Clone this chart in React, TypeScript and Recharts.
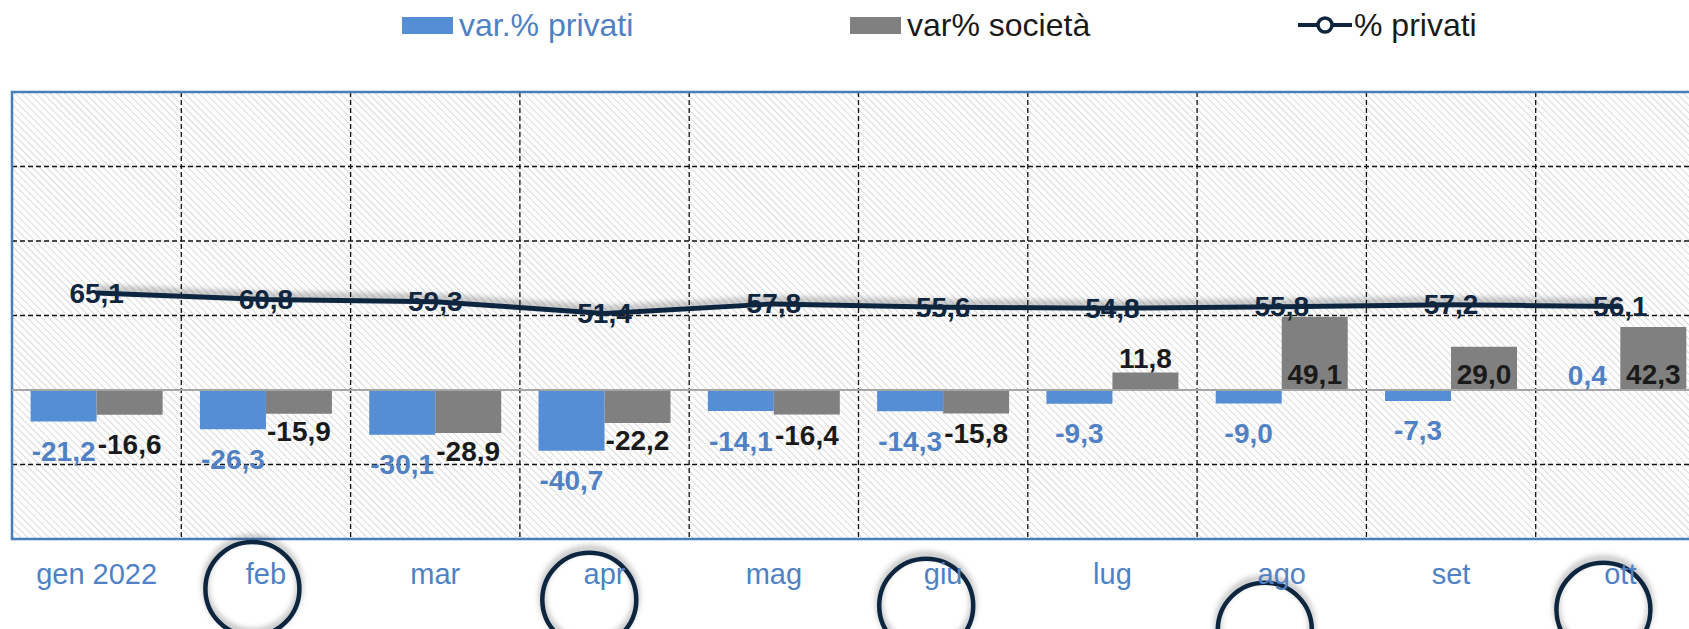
import React from 'react';
import {
  ComposedChart,
  Bar,
  Line,
  XAxis,
  YAxis,
  CartesianGrid,
  ReferenceLine,
  ReferenceArea,
  ReferenceDot,
  LabelList,
} from 'recharts';

const months = ['gen 2022', 'feb', 'mar', 'apr', 'mag', 'giu', 'lug', 'ago', 'set', 'ott'];
const varPrivati = [-21.2, -26.3, -30.1, -40.7, -14.1, -14.3, -9.3, -9.0, -7.3, 0.4];
const varSocieta = [-16.6, -15.9, -28.9, -22.2, -16.4, -15.8, 11.8, 49.1, 29.0, 42.3];
const pctPrivati = [65.1, 60.8, 59.3, 51.4, 57.8, 55.6, 54.8, 55.8, 57.2, 56.1];

// stray line markers that the source export draws below the axis
const markerSlot = [1.42, 3.41, 5.4, 7.4, 9.4];
const markerLevel = [-133.5, -140.8, -144.8, -160.9, -147.5];

const yTicks = [-100, -50, 0, 50, 100, 150, 200];
const slotTicks = [0, 1, 2, 3, 4, 5, 6, 7, 8, 9, 10];

const data = months.map((m, i) => ({
  month: m,
  slot: i + 0.5,
  priv: varPrivati[i],
  soc: varSocieta[i],
  pct: pctPrivati[i],
}));

const BLUE = '#558ed5';
const BLUE_TEXT = '#4f81c4';
const GREY = '#808080';
const NAVY = '#10263f';
const FONT = '"Liberation Sans", Arial, sans-serif';

const fmt = (v: number) => v.toFixed(1).replace('.', ',');

// gray negatives sit a bit closer to the bar end, gen is pushed down
const socDrop = [30, 18, 18, 17, 21, 20, 18, 18, 18, 18];

const BarLabel = (props: any) => {
  const { x, y, width, height, value, index, color, drop } = props;
  const top = Math.min(y, y + height);
  const bottom = Math.max(y, y + height);
  const cx = x + width / 2;
  let cy: number;
  if (value < 0) cy = bottom + (Array.isArray(drop) ? drop[index] : drop);
  else if (bottom - top > 40) cy = bottom - 16;
  else cy = top - 14;
  return (
    <text
      x={cx}
      y={cy}
      textAnchor="middle"
      dominantBaseline="central"
      fill={color}
      fontSize={28}
      fontWeight="bold"
      fontFamily={FONT}
    >
      {fmt(value)}
    </text>
  );
};

const LineLabel = (props: any) => {
  const { x, y, value } = props;
  return (
    <text
      x={x}
      y={y}
      textAnchor="middle"
      dominantBaseline="central"
      fill={NAVY}
      fontSize={28}
      fontWeight="bold"
      fontFamily={FONT}
    >
      {fmt(value)}
    </text>
  );
};

const legendItems = [
  { name: 'var.% privati', kind: 'bar', color: BLUE, text: BLUE_TEXT },
  { name: 'var% società', kind: 'bar', color: GREY, text: '#1a1a1a' },
  { name: '% privati', kind: 'line', color: NAVY, text: '#1a1a1a' },
];

const Legend = () => (
  <div
    style={{
      position: 'absolute',
      left: 402,
      top: 0,
      height: 50,
      display: 'flex',
      alignItems: 'center',
      fontFamily: FONT,
      fontSize: 32,
    }}
  >
    {legendItems.map((it) => (
      <div key={it.name} style={{ width: 448, display: 'flex', alignItems: 'center' }}>
        {it.kind === 'bar' ? (
          <div style={{ width: 51, height: 17, background: it.color, marginRight: 6 }} />
        ) : (
          <svg width={54} height={20} style={{ marginRight: 2 }}>
            <line x1={0} y1={10} x2={54} y2={10} stroke={it.color} strokeWidth={4} />
            <circle cx={27} cy={10} r={7} fill="#fff" stroke={it.color} strokeWidth={3.5} />
          </svg>
        )}
        <span style={{ color: it.text }}>{it.name}</span>
      </div>
    ))}
  </div>
);

export default function App() {
  return (
    <div
      style={{
        position: 'absolute',
        left: 0,
        top: 0,
        width: 1689,
        height: 629,
        overflow: 'hidden',
        background: '#fff',
        fontFamily: FONT,
      }}
    >
      <Legend />
      <ComposedChart
        width={1720}
        height={629}
        data={data}
        margin={{ top: 92, right: 15, bottom: 60, left: 12 }}
        barCategoryGap="11%"
        barGap={0}
      >
        <defs>
          <pattern
            id="hatch"
            width="5"
            height="5"
            patternUnits="userSpaceOnUse"
            patternTransform="rotate(45)"
          >
            <rect width="5" height="5" fill="#ffffff" />
            <line x1="0" y1="0" x2="5" y2="0" stroke="#cdcdcd" strokeWidth="1.5" />
          </pattern>
          <filter id="shade" filterUnits="userSpaceOnUse" x="0" y="0" width="1720" height="700">
            <feDropShadow dx="0" dy="-4" stdDeviation="3" floodColor="#000" floodOpacity="0.35" />
          </filter>
        </defs>

        <XAxis
          xAxisId="cat"
          dataKey="month"
          height={30}
          axisLine={false}
          tickLine={false}
          tickSize={0}
          tickMargin={24}
          interval={0}
          tick={{ fill: BLUE_TEXT, fontSize: 29, fontFamily: FONT }}
        />
        <XAxis
          xAxisId="grid"
          dataKey="slot"
          type="number"
          domain={[0, 10]}
          ticks={slotTicks}
          allowDataOverflow
          hide
        />
        <YAxis yAxisId="main" type="number" domain={[-100, 200]} ticks={yTicks} hide />

        <CartesianGrid
          xAxisId="grid"
          yAxisId="main"
          stroke="#111"
          strokeWidth={1.3}
          strokeDasharray="5 3"
          fill="url(#hatch)"
          fillOpacity={1}
        />
        <ReferenceLine xAxisId="grid" yAxisId="main" y={0} stroke="#a6a6a6" strokeWidth={2} />

        <Bar xAxisId="cat" yAxisId="main" dataKey="priv" name="var.% privati" fill={BLUE} isAnimationActive={false}>
          <LabelList dataKey="priv" content={(p: any) => <BarLabel {...p} color={BLUE_TEXT} drop={30} />} />
        </Bar>
        <Bar xAxisId="cat" yAxisId="main" dataKey="soc" name="var% società" fill={GREY} isAnimationActive={false}>
          <LabelList dataKey="soc" content={(p: any) => <BarLabel {...p} color="#1a1a1a" drop={socDrop} />} />
        </Bar>
        <Line
          xAxisId="cat"
          yAxisId="main"
          dataKey="pct"
          name="% privati"
          type="linear"
          stroke={NAVY}
          strokeWidth={5}
          dot={false}
          activeDot={false}
          filter="url(#shade)"
          isAnimationActive={false}
        >
          <LabelList dataKey="pct" content={(p: any) => <LineLabel {...p} />} />
        </Line>

        <ReferenceArea
          xAxisId="grid"
          yAxisId="main"
          x1={0}
          x2={10}
          y1={-100}
          y2={200}
          fill="none"
          stroke="#4a7ebb"
          strokeWidth={2.5}
          ifOverflow="visible"
        />

        {markerSlot.map((s, i) => (
          <ReferenceDot
            key={i}
            xAxisId="grid"
            yAxisId="main"
            x={s}
            y={markerLevel[i]}
            r={47}
            ifOverflow="visible"
            shape={(p: any) => (
              <circle
                cx={p.cx}
                cy={p.cy}
                r={47}
                fill="none"
                stroke={NAVY}
                strokeWidth={4.5}
                filter="url(#shade)"
              />
            )}
          />
        ))}
      </ComposedChart>
    </div>
  );
}
